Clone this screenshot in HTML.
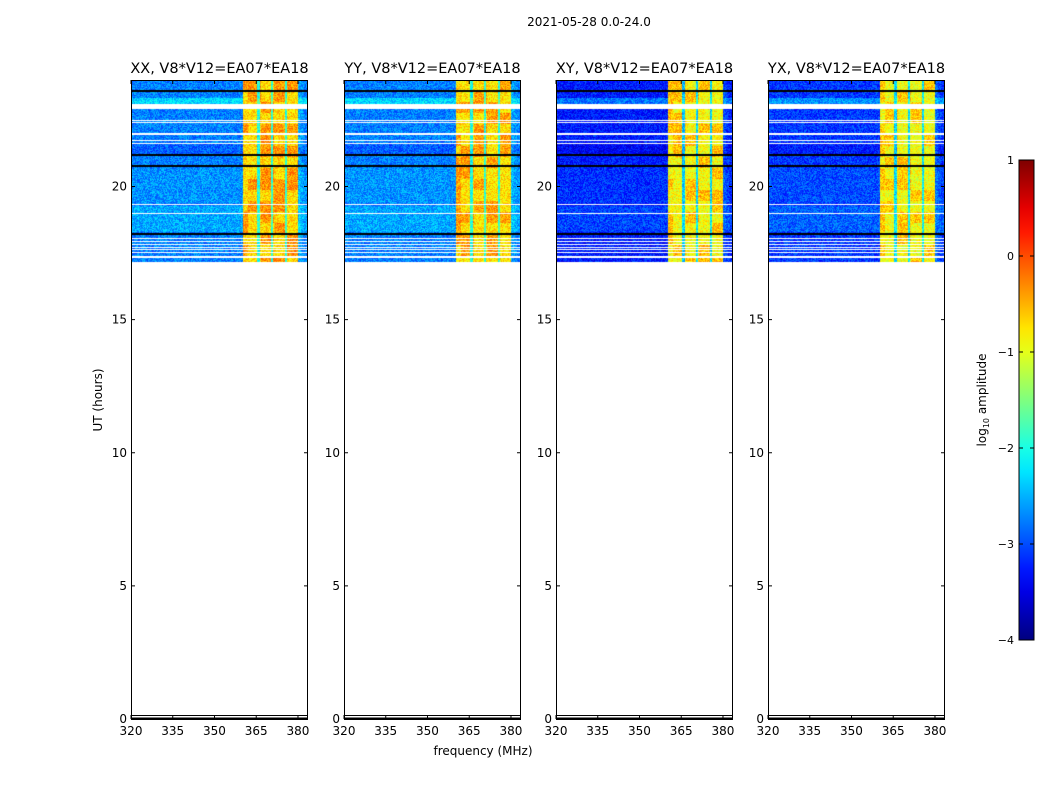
<!DOCTYPE html>
<html><head><meta charset="utf-8">
<style>
body{margin:0;background:#fff;width:1050px;height:800px;overflow:hidden;font-family:"DejaVu Sans","Liberation Sans",sans-serif;}
#wrap{position:relative;width:1050px;height:800px;}
canvas{position:absolute;}
svg{position:absolute;left:0;top:0;font-family:"DejaVu Sans","Liberation Sans",sans-serif;}
</style></head>
<body>
<div id="wrap">
<svg id="svg" width="1050" height="800"></svg>
</div>
<script>
// ---- data ----
const panelTitles = ["XX, V8*V12=EA07*EA18","YY, V8*V12=EA07*EA18","XY, V8*V12=EA07*EA18","YX, V8*V12=EA07*EA18"];
const panelLefts = [131,344,556,768];
const panelBg = [-2.75,-2.75,-3.25,-3.1];
const panelBand = [-0.7,-0.75,-0.9,-0.95];
const xTicks = [320,335,350,365,380];
const yTicks = [0,5,10,15,20];
const cbTicks = [1,0,-1,-2,-3,-4];
const freqStart = 320;
const colWeight = [0,0,0,0,0,0,0,0,0,0, 0,0,0,0,0,0,0,0,0,0, 0,0,0,0,0,0,0,0,0,0, 0,0,0,0,0,0,0,0,0,0,
  1,1,1,1,1,0.35, 1,1,1,1,0.4, 1,1,1,1,0.4, 1,1,1,1, 0.1,0.05,0,0];
const dataStart = 17.2, dataEnd = 24.0;
const whiteBands = [[22.93,23.12],[22.49,22.53],[22.42,22.45],[21.97,22.01],[21.74,21.78],[21.63,21.67],
  [19.34,19.38],[18.97,19.01],[18.05,18.1],[17.92,17.97],[17.82,17.86],[17.72,17.76],[17.62,17.66],[17.52,17.56],[17.34,17.42]];
const blackLines = [23.6,21.2,20.8,18.24];
const rowShift = [[23.12,23.35,0.45],[21.2,21.6,-0.15],[18.3,19.3,0.2],[19.4,20.7,0.1]];

function jet(v){
  function c(x){return Math.max(0,Math.min(1,x));}
  const r=c(1.5-Math.abs(4*v-3)), g=c(1.5-Math.abs(4*v-2)), b=c(1.5-Math.abs(4*v-1));
  return [r*255|0,g*255|0,b*255|0];
}
function hash(a,b){let h=(a*374761393+b*668265263)|0;h=(h^(h>>>13))*1274126177|0;h=h^(h>>>16);return ((h>>>0)%1000)/1000;}
const PT=80, PB=719, PW=177;
const yScale = h => PB - h*(PB-PT)/24;
const xScale = (f,left) => left + (f-320)*(PW/63.6);

const svg=document.getElementById('svg');
const NS="http://www.w3.org/2000/svg";
function mk(tag,attrs,parent){const e=document.createElementNS(NS,tag);for(const k in attrs)e.setAttribute(k,attrs[k]);(parent||svg).appendChild(e);return e;}

const wrap=document.getElementById('wrap');
panelTitles.forEach((title,p)=>{
  const left=panelLefts[p];
  const cv=document.createElement('canvas');
  cv.width=PW;cv.height=PB-PT;cv.style.left=left+'px';cv.style.top=PT+'px';
  
  
  wrap.insertBefore(cv,svg);
  const ctx=cv.getContext('2d');
  const img=ctx.createImageData(PW,PB-PT);
  for(let y=0;y<PB-PT;y++){
    const h=(PB-(y+PT))/((PB-PT)/24);
    for(let x=0;x<PW;x++){
      const i=(y*PW+x)*4;
      let rgb=[255,255,255];
      if(h>=dataStart&&h<=dataEnd){
        const f=320+x*63.6/PW;
        const bi=Math.min(colWeight.length-1,Math.floor(f-freqStart));
        const w=colWeight[bi];
        let v=panelBg[p]+w*(panelBand[p]-panelBg[p]);
        rowShift.forEach(r=>{if(h>=r[0]&&h<r[1])v+=r[2]*(1-w);});
        v+=(hash(x+p*1000,y)-0.5)*0.7;
        if(w>0.9){
          const blk=hash(Math.floor(x/13)+p*50,Math.floor(y/11));
          v+= blk>0.6 ? 0.35 : 0;
        }
        rgb=jet(Math.max(0,Math.min(1,(v+4)/5)));
        whiteBands.forEach(b=>{if(h>=b[0]&&h<b[1])rgb=[255,255,255];});
        blackLines.forEach(t=>{if(Math.abs(h-t)<0.04)rgb=[0,0,0];});
      }
      img.data[i]=rgb[0];img.data[i+1]=rgb[1];img.data[i+2]=rgb[2];img.data[i+3]=255;
    }
  }
  ctx.putImageData(img,0,0);
  const g=mk('g',{});
  
  
  mk('line',{x1:left,x2:left+PW,y1:715.5,y2:715.5,stroke:'#000','stroke-width':1},g);
  mk('rect',{x:left,y:717.5,width:PW,height:2.5,fill:'#000'},g);
  const fr=mk('rect',{x:left+0.5,y:PT+0.5,width:PW-1,height:PB-PT,fill:'none',stroke:'#000','stroke-width':1},g);
  
  
  const t=mk('text',{x:left+PW/2,y:73,'text-anchor':'middle','font-size':14.5,fill:'#000'},g);
  t.textContent=title;
  
  
  xTicks.forEach(v=>{
    const x=xScale(v,left);
    mk('line',{x1:x,x2:x,y1:PB,y2:PB-4,stroke:'#000'},g);
    mk('line',{x1:x,x2:x,y1:PT,y2:PT+4,stroke:'#000'},g);
    const l=mk('text',{x:x,y:PB+16,'text-anchor':'middle','font-size':12,fill:'#000'},g);
    l.textContent=v;
    
    
  });
  yTicks.forEach(v=>{
    const y=yScale(v);
    mk('line',{x1:left,x2:left+4,y1:y,y2:y,stroke:'#000'},g);
    mk('line',{x1:left+PW,x2:left+PW-4,y1:y,y2:y,stroke:'#000'},g);
    const l=mk('text',{x:left-4,y:y+4,'text-anchor':'end','font-size':12,fill:'#000'},g);
    l.textContent=v;
    
    
  });
});
let e=mk('text',{x:589,y:26,'text-anchor':'middle','font-size':12,fill:'#000'});
e.textContent='2021-05-28 0.0-24.0';


e=mk('text',{x:483,y:755,'text-anchor':'middle','font-size':12,fill:'#000'});
e.textContent='frequency (MHz)';


e=mk('text',{x:102,y:400,'text-anchor':'middle','font-size':12,fill:'#000',transform:'rotate(-90 102 400)'});
e.textContent='UT (hours)';


const CBX=1019,CBW=15,CBT=160,CBB=640;
const defs=mk('defs',{});
const lg=mk('linearGradient',{id:'jetg',x1:0,y1:1,x2:0,y2:0},defs);
for(let k=0;k<=20;k++){const c=jet(k/20);mk('stop',{offset:(k/20),'stop-color':'rgb('+c.join(',')+')'},lg);}
e=mk('rect',{x:CBX,y:CBT,width:CBW,height:CBB-CBT,fill:'url(#jetg)',stroke:'#000','stroke-width':1});


const cbScale=v=>CBT+(1-v)*(CBB-CBT)/5;
cbTicks.forEach(v=>{
  const y=cbScale(v);
  mk('line',{x1:CBX,x2:CBX+4,y1:y,y2:y,stroke:'#000'});
  mk('line',{x1:CBX+CBW,x2:CBX+CBW-4,y1:y,y2:y,stroke:'#000'});
  const l=mk('text',{x:CBX-5,y:y+4,'text-anchor':'end','font-size':11,fill:'#000'});
  l.textContent=(v<0?'\u2212'+(-v):v);
  
  
});
e=mk('text',{x:986,y:400,'text-anchor':'middle','font-size':12,fill:'#000',transform:'rotate(-90 986 400)'});
e.innerHTML='log<tspan font-size="8" dy="3">10</tspan><tspan dy="-3"> amplitude</tspan>';


</script>
</body></html>
